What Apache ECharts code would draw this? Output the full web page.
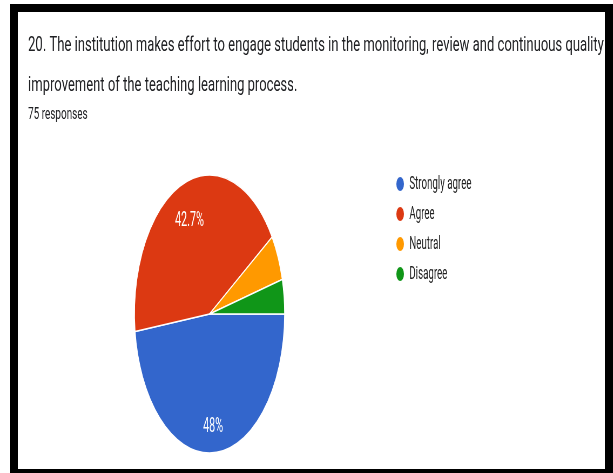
<!DOCTYPE html>
<html>
<head>
<meta charset="utf-8">
<script src="https://cdn.jsdelivr.net/npm/echarts@6/dist/echarts.min.js"></script>
<style>
  html, body { margin: 0; padding: 0; background: #fff; }
  .frame {
    position: absolute; left: 10px; top: 4px; width: 603px; height: 469px;
    box-sizing: border-box; border-style: solid; border-color: #000;
    border-width: 8px 8px 4px 8px;
  }
  /* source picture is squashed sideways, so draw wide and squeeze */
  .chart {
    position: absolute; left: 0; top: 0; width: 1135px; height: 473px;
    transform: scaleX(0.54); transform-origin: 0 0;
  }
</style>
</head>
<body>
<div class="frame"></div>
<div class="chart" id="pieChart"></div>
<script>
  var questionText = '20. The institution makes effort to engage students in the monitoring, review and continuous quality\nimprovement of the teaching learning process.';
  var responsesText = '75 responses';
  var answers = ['Strongly agree', 'Agree', 'Neutral', 'Disagree'];
  var counts = [36, 32, 4, 3];
  var colors = ['#3366cc', '#dc3912', '#ff9900', '#109618'];

  var pieData = answers.map(function (name, i) {
    return { name: name, value: counts[i] };
  });

  var myChart = echarts.init(document.getElementById('pieChart'));
  var option = {
    color: colors,
    backgroundColor: 'transparent',
    animation: false,
    graphic: [{
      type: 'text',
      x: 52,
      y: 26,
      scaleX: 1.15,
      silent: true,
      style: {
        text: questionText,
        fontFamily: 'Roboto',
        fontSize: 21,
        lineHeight: 40,
        fill: '#202124',
        verticalAlign: 'top'
      }
    }, {
      type: 'text',
      x: 52,
      y: 107,
      scaleX: 1.15,
      silent: true,
      style: {
        text: responsesText,
        fontFamily: 'Roboto',
        fontSize: 16,
        fill: '#202124',
        verticalAlign: 'top'
      }
    }],
    legend: {
      orient: 'vertical',
      left: 727,
      top: 170,
      icon: 'circle',
      itemWidth: 16,
      itemHeight: 16,
      itemGap: 12,
      selectedMode: false,
      textStyle: { fontFamily: 'Roboto', fontSize: 18, color: '#222', padding: [0, 0, 0, 4] },
      data: answers
    },
    series: [{
      type: 'pie',
      center: [388, 314],
      radius: [0, 139],
      startAngle: 0,
      clockwise: true,
      silent: true,
      itemStyle: { borderColor: '#fff', borderWidth: 1.5 },
      label: { show: false },
      labelLine: { show: false },
      data: pieData
    }, {
      // label-only ring so the percentages sit out toward the rim
      type: 'pie',
      center: [388, 314],
      radius: [68, 139],
      startAngle: 0,
      clockwise: true,
      silent: true,
      legendHoverLink: false,
      itemStyle: { color: 'transparent' },
      label: {
        position: 'inside',
        offset: [0, 7],
        fontFamily: 'Roboto',
        fontSize: 20,
        color: '#fff',
        formatter: function (p) {
          if (p.percent < 10) return '';
          return +p.percent.toFixed(1) + '%';
        }
      },
      labelLine: { show: false },
      data: pieData
    }]
  };
  myChart.setOption(option);
</script>
</body>
</html>
